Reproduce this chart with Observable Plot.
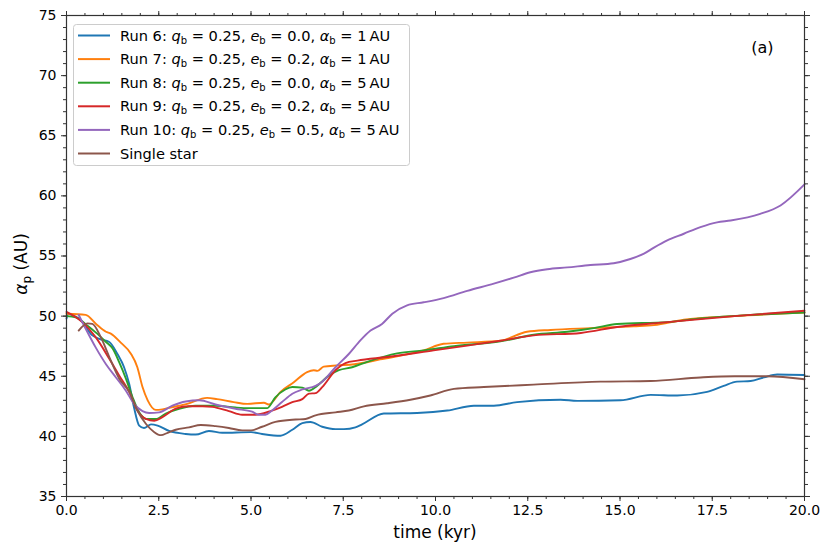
<!DOCTYPE html>
<html>
<head>
<meta charset="utf-8">
<script src="https://cdn.jsdelivr.net/npm/d3@7"></script>
<script src="https://cdn.jsdelivr.net/npm/@observablehq/plot@0.6"></script>
<style>
  html, body { margin: 0; padding: 0; background: white; }
  #chart { width: 831px; height: 554px; }
</style>
</head>
<body>
<div id="chart"></div>
<script>
// ---- Data ----
const seriesNames = [
  "Run 6", "Run 7", "Run 8", "Run 9", "Run 10", "Single star"
];
const seriesColors = ["#1f77b4", "#ff7f0e", "#2ca02c", "#d62728", "#9467bd", "#8c564b"];
const qbValues = ["0.25", "0.25", "0.25", "0.25", "0.25"];
const ebValues = ["0.0", "0.2", "0.0", "0.2", "0.5"];
const abValues = ["1", "1", "5", "5", "5"];

const run6T = [0, 0.05, 0.15, 0.39, 0.7, 0.89, 1.16, 1.38, 1.56, 1.7, 1.83, 1.97, 2.1, 2.29, 2.47, 2.78, 3.23, 3.5, 3.86, 4.22, 5.0, 5.3, 5.8, 6.12, 6.39, 6.61, 6.93, 7.29, 7.52, 7.83, 8.01, 8.6, 9.5, 10.32, 11.04, 11.58, 12.21, 13.39, 13.84, 15.01, 15.83, 16.55, 17.36, 17.81, 18.17, 18.54, 18.9, 19.26, 20];
const run6V = [49.8, 50.2, 50.1, 49.65, 48.4, 48.1, 47.85, 46.85, 45.75, 44.35, 42.4, 40.9, 40.7, 41.0, 40.9, 40.45, 40.2, 40.15, 40.45, 40.3, 40.35, 40.2, 40.05, 40.55, 41.1, 41.2, 40.8, 40.6, 40.6, 40.75, 41.0, 41.9, 41.95, 42.15, 42.55, 42.55, 42.85, 43.05, 42.95, 43.0, 43.45, 43.4, 43.7, 44.2, 44.55, 44.6, 44.9, 45.15, 45.1];

const run7T = [0, 0.52, 0.8, 1.07, 1.2, 1.47, 1.74, 1.92, 2.06, 2.2, 2.42, 2.6, 2.82, 3.27, 3.81, 4.08, 4.53, 4.9, 5.35, 5.48, 5.8, 6.16, 6.52, 6.7, 6.8, 6.97, 7.33, 7.8, 8.5, 9.68, 10.22, 10.86, 11.76, 12.48, 13.12, 14.2, 15.37, 15.92, 16.73, 18.1, 20];
const run7V = [50.2, 50.1, 49.35, 48.7, 48.55, 47.8, 46.9, 45.75, 44.1, 43.0, 42.2, 42.25, 42.4, 42.7, 43.2, 43.1, 42.85, 42.7, 42.8, 42.65, 43.7, 44.5, 45.35, 45.5, 45.45, 45.8, 45.9, 46.0, 46.4, 47.15, 47.7, 47.8, 47.95, 48.7, 48.85, 49.0, 49.15, 49.25, 49.7, 50.0, 50.3];

const run8T = [0, 0.25, 0.57, 0.79, 1.07, 1.25, 1.43, 1.61, 1.79, 1.97, 2.15, 2.42, 2.69, 3.05, 3.5, 4.04, 4.58, 4.94, 5.44, 5.66, 5.93, 6.12, 6.39, 6.57, 6.79, 7.11, 7.38, 7.74, 8.15, 8.96, 9.68, 10.5, 11.76, 12.66, 13.57, 14.29, 14.92, 16.28, 17.18, 18.54, 20];
const run8V = [50.0, 49.9, 49.2, 48.65, 47.85, 47.3, 46.15, 44.8, 43.25, 42.0, 41.45, 41.45, 41.9, 42.3, 42.55, 42.55, 42.4, 42.35, 42.35, 43.25, 43.9, 44.1, 44.05, 43.8, 44.2, 45.05, 45.5, 45.75, 46.2, 46.9, 47.15, 47.5, 47.9, 48.45, 48.7, 49.0, 49.35, 49.5, 49.8, 50.1, 50.3];

const run9T = [0, 0.43, 0.79, 1.16, 1.43, 1.7, 1.92, 2.15, 2.38, 2.6, 2.96, 3.32, 3.69, 3.95, 4.4, 4.76, 5.12, 5.53, 5.84, 6.12, 6.39, 6.57, 6.75, 6.93, 7.29, 7.56, 7.88, 8.69, 9.95, 10.86, 11.76, 12.66, 13.94, 14.92, 16.28, 18.1, 20];
const run9V = [50.35, 49.5, 48.25, 46.45, 45.05, 43.7, 42.15, 41.45, 41.3, 41.6, 42.3, 42.5, 42.5, 42.45, 42.1, 41.8, 41.8, 42.1, 42.45, 42.85, 43.1, 43.55, 43.6, 44.1, 45.5, 46.1, 46.3, 46.6, 47.15, 47.55, 47.95, 48.4, 48.6, 49.1, 49.5, 50.0, 50.45];

const run10T = [0.33, 0.52, 0.79, 1.07, 1.34, 1.61, 1.83, 2.06, 2.24, 2.51, 2.87, 3.23, 3.6, 4.04, 4.58, 5.03, 5.21, 5.39, 5.57, 5.84, 6.12, 6.39, 6.75, 6.93, 7.29, 7.65, 7.97, 8.24, 8.55, 8.83, 9.23, 9.68, 10.22, 10.86, 11.58, 12.12, 12.57, 13.03, 13.57, 14.2, 14.83, 15.28, 15.65, 15.92, 16.28, 16.73, 17.18, 17.63, 18.0, 18.8, 19.35, 20];
const run10V = [50.1, 48.95, 47.4, 46.0, 44.9, 43.8, 42.7, 42.1, 41.95, 42.0, 42.55, 42.9, 43.0, 42.65, 42.3, 42.05, 41.8, 41.8, 42.15, 42.85, 43.55, 43.9, 44.2, 44.55, 45.75, 46.85, 48.0, 48.8, 49.35, 50.2, 50.9, 51.15, 51.5, 52.1, 52.7, 53.2, 53.65, 53.9, 54.05, 54.25, 54.4, 54.75, 55.2, 55.7, 56.3, 56.85, 57.4, 57.8, 57.95, 58.5, 59.2, 60.95];

const singleT = [0.33, 0.57, 0.7, 0.93, 1.16, 1.43, 1.7, 1.92, 2.15, 2.38, 2.56, 2.74, 2.96, 3.32, 3.64, 4.04, 4.4, 4.76, 5.0, 5.3, 5.66, 6.21, 6.48, 6.75, 7.29, 7.65, 8.06, 8.69, 9.32, 9.86, 10.5, 11.31, 12.66, 14.47, 15.83, 17.18, 18.1, 19.0, 20];
const singleV = [48.8, 49.4, 49.35, 48.25, 46.6, 44.8, 43.7, 42.15, 41.05, 40.35, 40.1, 40.3, 40.55, 40.75, 40.95, 40.85, 40.7, 40.5, 40.5, 40.8, 41.2, 41.4, 41.45, 41.75, 42.0, 42.15, 42.5, 42.75, 43.05, 43.4, 43.95, 44.1, 44.3, 44.55, 44.6, 44.9, 45.0, 45.0, 44.75];

const xMajorTicks = [0, 2.5, 5, 7.5, 10, 12.5, 15, 17.5, 20];
const yMajorTicks = [35, 40, 45, 50, 55, 60, 65, 70, 75];
const xMinorTicks = d3.range(0, 20.001, 0.5);
const yMinorTicks = d3.range(35, 75.001, 1);

const seriesT = [run6T, run7T, run8T, run9T, run10T, singleT];
const seriesV = [run6V, run7V, run8V, run9V, run10V, singleV];

const data = [];
seriesNames.forEach((name, i) => {
  seriesT[i].forEach((t, j) => data.push({series: name, t, v: seriesV[i][j]}));
});

const noLabel = () => "";
const axisColor = "#333";

const chart = Plot.plot({
  width: 831,
  height: 554,
  marginLeft: 66,
  marginRight: 27,
  marginTop: 15,
  marginBottom: 58,
  style: {fontFamily: "DejaVu Sans", fontSize: "14px", background: "white", color: "#000"},
  x: {domain: [0, 20]},
  y: {domain: [35, 75]},
  color: {domain: seriesNames, range: seriesColors},
  marks: [
    Plot.line(data, {x: "t", y: "v", z: "series", stroke: "series", strokeWidth: 1.9, curve: "monotone-x"}),
    Plot.frame({stroke: axisColor, strokeWidth: 1.2}),
    Plot.axisX({ticks: xMinorTicks, tickSize: 3, tickFormat: noLabel, label: null, stroke: axisColor}),
    Plot.axisX({ticks: xMajorTicks, tickSize: 5, tickPadding: 4, tickFormat: d => d.toFixed(1), label: null, fontSize: 14, stroke: axisColor, fill: "#000"}),
    Plot.axisX({anchor: "top", ticks: xMinorTicks, tickSize: 3, tickFormat: noLabel, label: null, stroke: axisColor}),
    Plot.axisX({anchor: "top", ticks: xMajorTicks, tickSize: 5, tickFormat: noLabel, label: null, stroke: axisColor}),
    Plot.axisY({ticks: yMinorTicks, tickSize: 3, tickFormat: noLabel, label: null, stroke: axisColor}),
    Plot.axisY({ticks: yMajorTicks, tickSize: 5, tickPadding: 5, tickFormat: d => String(d), label: null, fontSize: 14, stroke: axisColor, fill: "#000"}),
    Plot.axisY({anchor: "right", ticks: yMinorTicks, tickSize: 3, tickFormat: noLabel, label: null, stroke: axisColor}),
    Plot.axisY({anchor: "right", ticks: yMajorTicks, tickSize: 5, tickFormat: noLabel, label: null, stroke: axisColor}),
    Plot.text(["(a)"], {frameAnchor: "top-right", dx: -31, dy: 26, fontSize: 16, fill: "#000"})
  ]
});

document.getElementById("chart").appendChild(chart);

// ---- Axis titles and in-plot legend (text with sub/italic parts) ----
const svg = d3.select(chart);
const font = "DejaVu Sans";

// x axis title
svg.append("text")
  .attr("x", 435).attr("y", 538)
  .attr("text-anchor", "middle")
  .attr("font-family", font).attr("font-size", 17)
  .text("time (kyr)");

// y axis title
const yt = svg.append("text")
  .attr("transform", "translate(27,264) rotate(-90)")
  .attr("text-anchor", "middle")
  .attr("font-family", font).attr("font-size", 17);
yt.append("tspan").attr("font-style", "italic").text("α");
yt.append("tspan").attr("font-size", 12).attr("dy", 4).text("p");
yt.append("tspan").attr("dy", -4).text(" (AU)");

// legend
const lg = svg.append("g").attr("text-anchor", "start");
lg.append("rect")
  .attr("x", 73.5).attr("y", 24.5).attr("width", 336).attr("height", 141).attr("rx", 3)
  .attr("fill", "white").attr("fill-opacity", 0.85).attr("stroke", "#cccccc");

function sub(t, base, letter) {
  t.append("tspan").attr("font-style", "italic").text(base);
  t.append("tspan").attr("font-size", 10).attr("dy", 3).text(letter);
}

seriesNames.forEach((name, i) => {
  const cy = 35.5 + i * 23.6;
  lg.append("line")
    .attr("x1", 78).attr("x2", 110).attr("y1", cy).attr("y2", cy)
    .attr("stroke", seriesColors[i]).attr("stroke-width", 2);
  const t = lg.append("text")
    .attr("x", 120).attr("y", cy + 5)
    .attr("text-anchor", "start")
    .attr("font-family", font).attr("font-size", 14.6).attr("fill", "#000");
  if (i < 5) {
    t.append("tspan").text(name + ": ");
    sub(t, "q", "b");
    t.append("tspan").attr("dy", -3).text(" = " + qbValues[i] + ", ");
    sub(t, "e", "b");
    t.append("tspan").attr("dy", -3).text(" = " + ebValues[i] + ", ");
    sub(t, "α", "b");
    t.append("tspan").attr("dy", -3).text(" = " + abValues[i] + "\u2009AU");
  } else {
    t.text(name);
  }
});
</script>
</body>
</html>
